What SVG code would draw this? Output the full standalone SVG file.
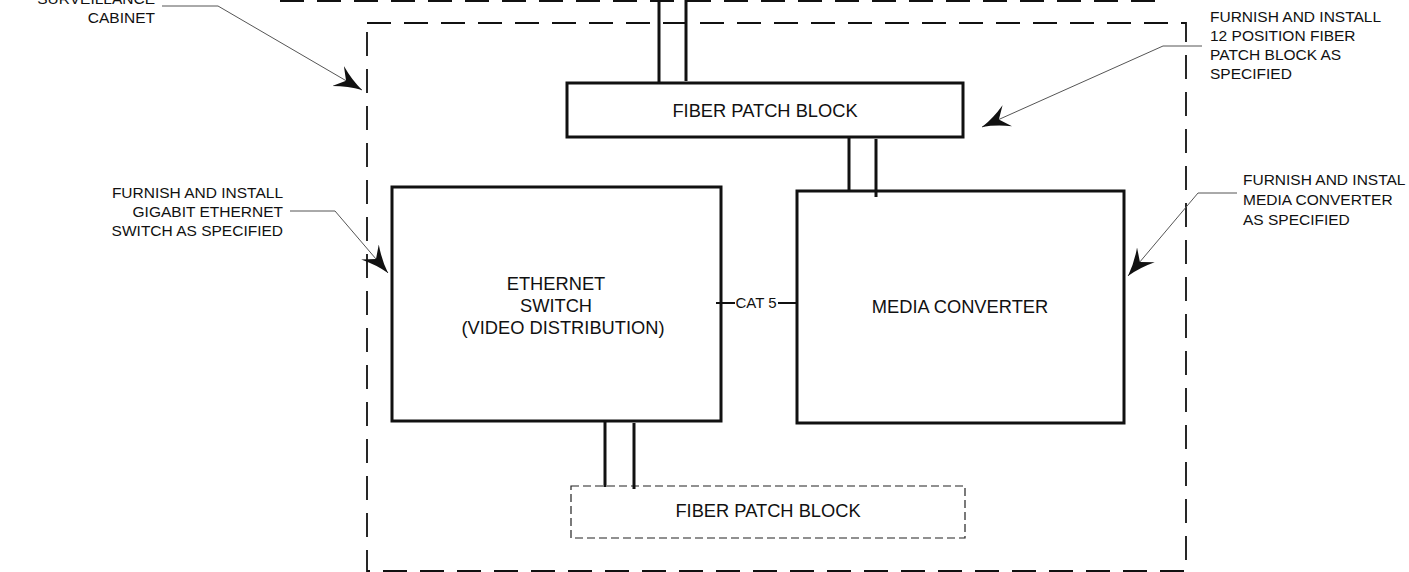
<svg xmlns="http://www.w3.org/2000/svg" width="1409" height="572" viewBox="0 0 1409 572">
<style>
text{font-family:"Liberation Sans",Arial,sans-serif;fill:#111}
.lbl{font-size:15.5px}
.blk{font-size:18.3px}
.box{fill:#fff;stroke:#111;stroke-width:3}
.cab{fill:none;stroke:#111;stroke-width:1.8;stroke-dasharray:24 13}
.wire{stroke:#111;stroke-width:3;fill:none}
.lead{stroke:#555;stroke-width:1;fill:none}
</style>
<defs>
<marker id="ah" markerUnits="userSpaceOnUse" markerWidth="30" markerHeight="30" viewBox="-24 -12 26 24" refX="0" refY="0" orient="auto">
<path d="M0,0 Q-12,-3 -24,-10 L-16,0 L-24,10 Q-12,3 0,0 Z" fill="#111"/>
</marker>
</defs>
<g id="cabinet">
<line class="cab" x1="280" y1="1" x2="1165" y2="1"/>
<rect class="cab" x="367" y="23" width="819" height="548"/>
</g>
<g id="fiber-patch-block-top">
<rect class="box" x="567" y="83" width="396" height="54"/>
<text class="blk" x="765" y="117" text-anchor="middle">FIBER PATCH BLOCK</text>
</g>
<g id="ethernet-switch">
<rect class="box" x="392" y="187" width="329" height="234"/>
<text class="blk" x="556" y="290" text-anchor="middle">ETHERNET</text>
<text class="blk" x="556" y="312" text-anchor="middle">SWITCH</text>
<text class="blk" x="563" y="334" text-anchor="middle">(VIDEO DISTRIBUTION)</text>
</g>
<g id="media-converter">
<rect class="box" x="797" y="191" width="327" height="232"/>
<text class="blk" x="960" y="313" text-anchor="middle">MEDIA CONVERTER</text>
</g>
<g id="fiber-patch-block-bottom">
<rect x="571" y="486" width="394" height="52" fill="#fff" stroke="#222" stroke-width="1.2" stroke-dasharray="8 4"/>
<text class="blk" x="768" y="517" text-anchor="middle">FIBER PATCH BLOCK</text>
</g>
<g id="connectors">
<line class="wire" x1="659" y1="0" x2="659" y2="84"/>
<line class="wire" x1="686" y1="0" x2="686" y2="81"/>
<line class="wire" x1="849" y1="136" x2="849" y2="191"/>
<line class="wire" x1="876" y1="139" x2="876" y2="197"/>
<line class="wire" x1="605" y1="421" x2="605" y2="487"/>
<line class="wire" x1="634" y1="423" x2="634" y2="489"/>
<line x1="716" y1="303" x2="735" y2="303" stroke="#111" stroke-width="2"/>
<line x1="778" y1="303" x2="797" y2="303" stroke="#111" stroke-width="2"/>
<text class="lbl" x="756" y="308" text-anchor="middle" style="font-size:15px">CAT 5</text>
<polyline class="lead" points="162,6 218,6 362,90" marker-end="url(#ah)"/>
<polyline class="lead" points="1202,46 1163,46 982,127" marker-end="url(#ah)"/>
<polyline class="lead" points="290,211 335,211 388,273" marker-end="url(#ah)"/>
<polyline class="lead" points="1237,193 1198,193 1128,276" marker-end="url(#ah)"/>
</g>
<g id="label-cabinet">
<text class="lbl" x="155" y="4" text-anchor="end">SURVEILLANCE</text>
<text class="lbl" x="155" y="23" text-anchor="end">CABINET</text>
</g>
<g id="label-patch">
<text class="lbl" x="1210" y="22">FURNISH AND INSTALL</text>
<text class="lbl" x="1210" y="41">12 POSITION FIBER</text>
<text class="lbl" x="1210" y="60">PATCH BLOCK AS</text>
<text class="lbl" x="1210" y="79">SPECIFIED</text>
</g>
<g id="label-switch">
<text class="lbl" x="283" y="198" text-anchor="end">FURNISH AND INSTALL</text>
<text class="lbl" x="283" y="217" text-anchor="end">GIGABIT ETHERNET</text>
<text class="lbl" x="283" y="236" text-anchor="end">SWITCH AS SPECIFIED</text>
</g>
<g id="label-converter">
<text class="lbl" x="1243" y="185">FURNISH AND INSTAL</text>
<text class="lbl" x="1243" y="205">MEDIA CONVERTER</text>
<text class="lbl" x="1243" y="225">AS SPECIFIED</text>
</g>
</svg>
